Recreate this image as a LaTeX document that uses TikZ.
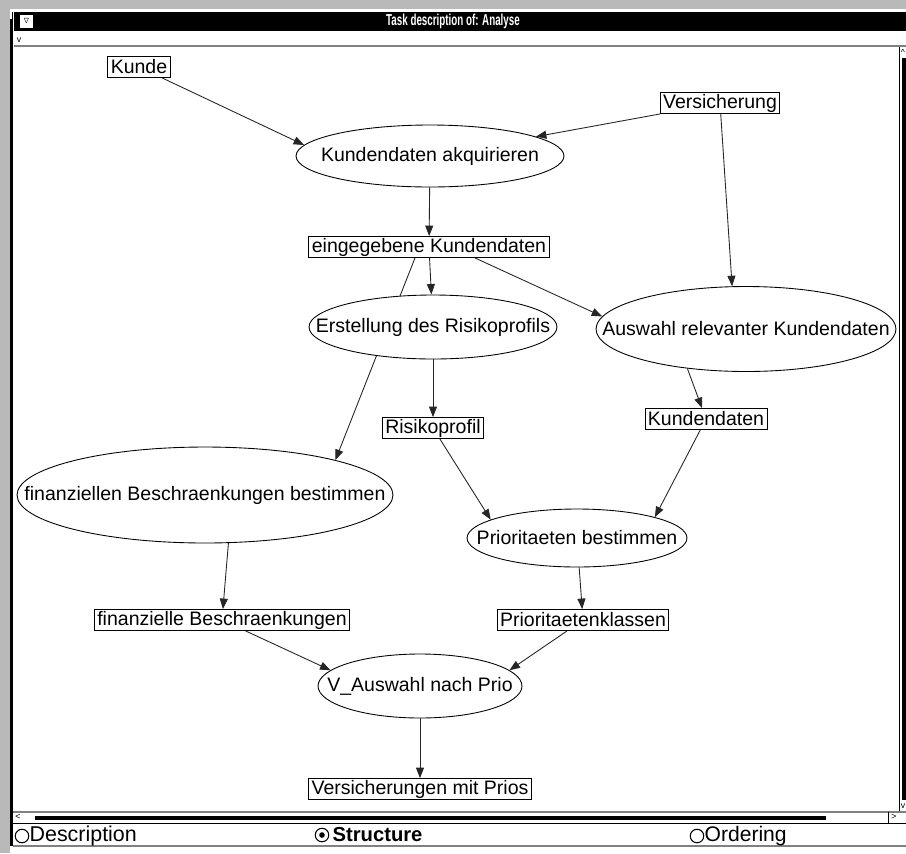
\documentclass[tikz,border=0pt]{standalone}
\usepackage{fontspec}
\usepackage{amssymb}
\setmainfont{Liberation Sans}
\usetikzlibrary{shapes.geometric,arrows.meta,backgrounds}

\tikzset{
  task/.style={draw, ellipse, fill=white, inner xsep=-1.5cm, inner ysep=-0.4cm, line width=0.5pt},
  data/.style={draw, fill=white, inner xsep=0.06cm, inner ysep=0.02cm,
               minimum height=0.42cm, line width=0.5pt},
  flow/.style={-{Triangle[length=0.21cm, width=0.16cm]}, line width=0.5pt, black!85},
  radio/.style={draw, circle, line width=0.6pt, minimum size=0.27cm, inner sep=0pt}
}

\begin{document}
\begin{tikzpicture}[x=0.02cm, y=-0.02cm,
        every node/.style={font=\fontsize{11.1}{13}\selectfont}]
  \useasboundingbox (0,0) rectangle (906,853);
  \begin{pgfonlayer}{background}
    \fill[white] (0,0) rectangle (906,853);
  \end{pgfonlayer}

  % window frame
  \fill[gray!55] (0,0) rectangle (906,9);
  \fill[gray!55] (0,0) rectangle (10,853);
  \fill[black] (10,10) rectangle (13,846);
  \draw[gray, line width=0.6pt] (13,846) -- (906,846);
  \draw[white, line width=0.8pt] (11,19) -- (11,11) -- (19,11);
  \fill[black] (14,12) rectangle (906,31);
  \fill[white] (20,15) rectangle (33,28);
  \node[inner sep=0pt, font=\tiny] (menu) at (26.5,21.5) {$\triangledown$};
  \node[text=white, font=\bfseries\fontsize{9}{10}\selectfont] (title) at (453,21)
       {\scalebox{0.62}[1]{Task description of: Analyse}};
  \node[inner sep=0pt, font=\tiny] (fold) at (19,40) {v};
  \draw[gray, line width=0.8pt] (14,46) -- (906,46);

  % scrollbars
  \draw[line width=0.5pt] (899,47) -- (899,812);
  \node[inner sep=0pt, font=\tiny] (up) at (903,52) {\^{}};
  \fill[black] (902,58) rectangle (906,800);
  \node[inner sep=0pt, font=\tiny] (down) at (903,806) {v};
  \draw[gray, line width=0.6pt] (13,812) -- (906,812);
  \draw[line width=0.5pt] (13,823) -- (906,823);
  \node[inner sep=0pt, font=\tiny] (left) at (18,817) {<};
  \fill[black] (35,815.5) rectangle (826,820);
  \draw[line width=0.5pt] (888,812) -- (888,823);
  \node[inner sep=0pt, font=\tiny] (right) at (894,817) {>};

  % view selector
  \node[radio] (rdesc) at (22,836) {};
  \node[anchor=west, inner sep=0pt, font=\fontsize{12.2}{14}\selectfont] at (rdesc.east) {Description};
  \node[radio] (rstruct) at (322,835) {};
  \fill (rstruct) circle (2.8);
  \node[anchor=west, inner sep=0pt, font=\bfseries\fontsize{11.5}{13}\selectfont] at ([xshift=0.06cm]rstruct.east) {Structure};
  \node[radio] (rord) at (697,836) {};
  \node[anchor=west, inner sep=0pt, font=\fontsize{12}{14}\selectfont] at (rord.east) {Ordering};

  % task structure
  \node[data] (kunde) at (139,67) {Kunde};
  \node[data] (vers) at (720,103) {Versicherung};
  \node[task, minimum width=5.36cm, minimum height=1.24cm] (akq) at (430,156) {Kundendaten akquirieren};
  \node[data] (eing) at (429,247) {eingegebene Kundendaten};
  \node[task, minimum width=4.96cm, minimum height=1.28cm] (erst) at (433,327) {Erstellung des Risikoprofils};
  \node[task, minimum width=6.0cm, minimum height=1.7cm] (ausw) at (746,329) {Auswahl relevanter Kundendaten};
  \node[data] (risk) at (433,428) {Risikoprofil};
  \node[data] (kdat) at (706,419) {Kundendaten};
  \node[task, minimum width=7.52cm, minimum height=1.92cm] (fin) at (205,495) {finanziellen Beschraenkungen bestimmen};
  \node[task, minimum width=4.4cm, minimum height=1.16cm] (prio) at (577,538) {Prioritaeten bestimmen};
  \node[data] (finb) at (222,620) {finanzielle Beschraenkungen};
  \node[data] (pkl) at (583,620) {Prioritaetenklassen};
  \node[task, minimum width=4.08cm, minimum height=1.28cm] (vaus) at (420,686) {V\_Auswahl nach Prio};
  \node[data] (vmp) at (420,789) {Versicherungen mit Prios};

  \begin{pgfonlayer}{background}
    \draw[flow] (kunde) -- (akq.175);
    \draw[flow] (vers) -- (akq);
    \draw[flow] (akq) -- (eing);
    \draw[flow] (vers) -- (ausw.108);
    \draw[flow] (eing) -- (erst);
    \draw[flow] ([xshift=-0.28cm]eing.south) -- (fin.15);
    \draw[flow] ([xshift=0.92cm]eing.south) -- (ausw.175);
    \draw[flow] (erst) -- (risk);
    \draw[flow] (ausw.214) -- (kdat);
    \draw[flow] (risk) -- (prio.168);
    \draw[flow] (kdat) -- (prio.15);
    \draw[flow] (fin.296) -- (finb);
    \draw[flow] (prio) -- (pkl);
    \draw[flow] (finb) -- (vaus.170);
    \draw[flow] (pkl) -- (vaus.10);
    \draw[flow] (vaus) -- (vmp);
  \end{pgfonlayer}
\end{tikzpicture}
\end{document}
